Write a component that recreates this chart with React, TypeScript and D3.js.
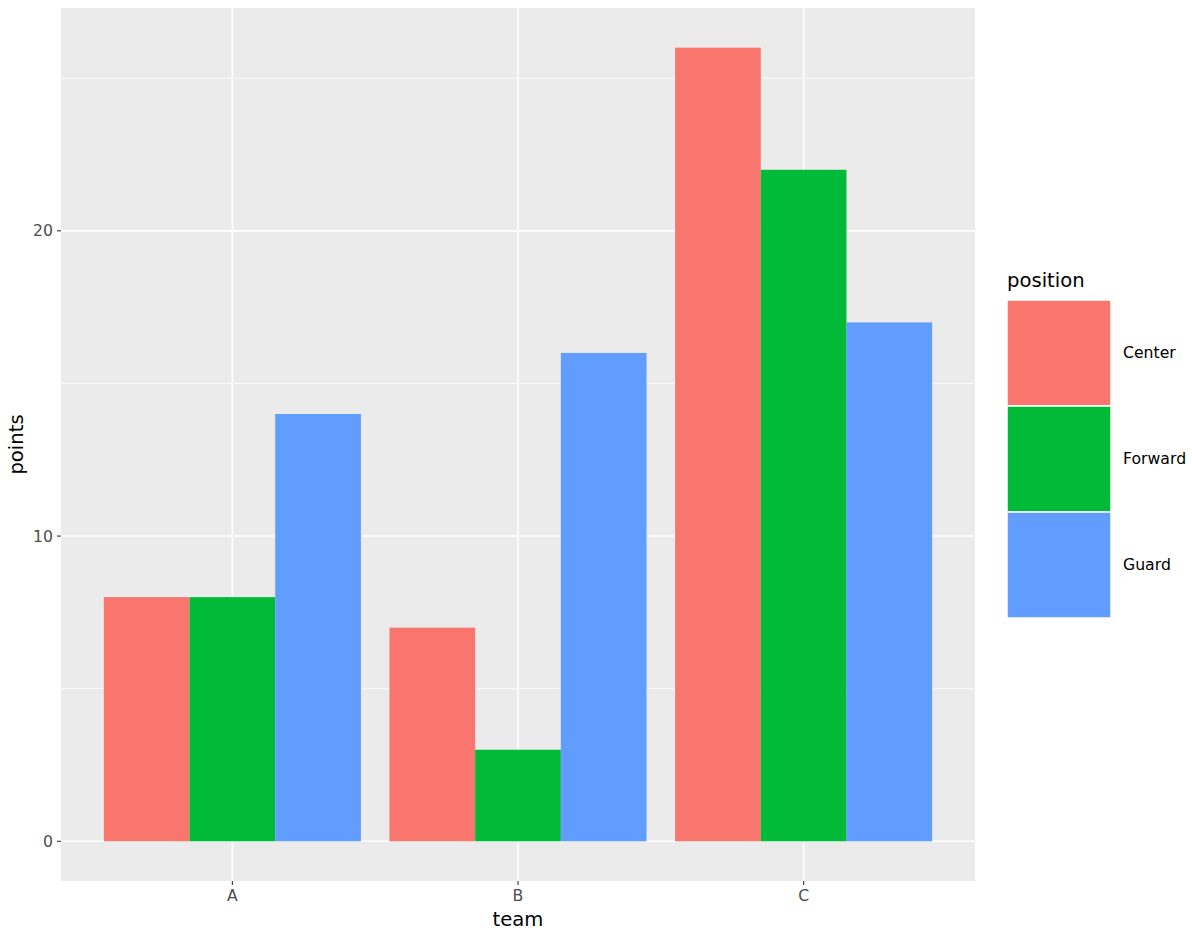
import { useEffect, useRef } from "react"
import * as d3 from "d3"

const teams = ["A", "B", "C"]
const positions = ["Center", "Forward", "Guard"]
const colors = ["#F8766D", "#00BA38", "#619CFF"]
// points per team, one array per position
const centerPoints = [8, 7, 26]
const forwardPoints = [8, 3, 22]
const guardPoints = [14, 16, 17]
const yTicks = [0, 10, 20]
const yMinor = [5, 15, 25]

export default function App() {
    const ref = useRef<SVGSVGElement>(null)

    useEffect(() => {
        document.body.style.margin = "0"
        const width = 1192
        const height = 938
        const panel = { left: 61, right: 975, top: 8, bottom: 881 }
        const font = "'DejaVu Sans', sans-serif"
        const textSize = 15.7
        const titleSize = 19.6

        const series = [centerPoints, forwardPoints, guardPoints]
        const rows = teams.flatMap((t, i) =>
            positions.map((p, j) => ({ team: t, position: p, value: series[j][i], color: colors[j] })))

        const maxV = d3.max(rows, d => d.value) as number
        const pad = maxV * 0.05

        // ggplot discrete: centers spaced 1 unit, expand 0.6, bar group width 0.9
        const x = d3.scalePoint<string>().domain(teams)
            .range([panel.left, panel.right]).padding(0.6)
        const groupW = x.step() * 0.9
        const inner = d3.scaleBand<string>().domain(positions).range([0, groupW])

        const y = d3.scaleLinear().domain([-pad, maxV + pad]).range([panel.bottom, panel.top])

        const svg = d3.select(ref.current)
        svg.selectAll("*").remove()
        svg.attr("width", width).attr("height", height).style("display", "block")
        svg.append("rect").attr("width", width).attr("height", height).attr("fill", "white")

        svg.append("rect")
            .attr("x", panel.left).attr("y", panel.top)
            .attr("width", panel.right - panel.left).attr("height", panel.bottom - panel.top)
            .attr("fill", "#EBEBEB")

        const grid = svg.append("g").attr("stroke", "white")
        grid.selectAll(".minor").data(yMinor).join("line")
            .attr("x1", panel.left).attr("x2", panel.right)
            .attr("y1", d => y(d)).attr("y2", d => y(d)).attr("stroke-width", 0.8)
        grid.selectAll(".major").data(yTicks).join("line")
            .attr("x1", panel.left).attr("x2", panel.right)
            .attr("y1", d => y(d)).attr("y2", d => y(d)).attr("stroke-width", 1.6)
        grid.selectAll(".xmajor").data(teams).join("line")
            .attr("y1", panel.top).attr("y2", panel.bottom)
            .attr("x1", d => x(d) as number).attr("x2", d => x(d) as number).attr("stroke-width", 1.6)

        svg.append("g").selectAll("rect").data(rows).join("rect")
            .attr("x", d => (x(d.team) as number) - groupW / 2 + (inner(d.position) as number))
            .attr("width", inner.bandwidth())
            .attr("y", d => y(d.value))
            .attr("height", d => y(0) - y(d.value))
            .attr("fill", d => d.color)

        // axes
        const axisCol = "#333333"
        const yAxis = svg.append("g")
        yAxis.selectAll("line").data(yTicks).join("line")
            .attr("x1", panel.left - 4).attr("x2", panel.left)
            .attr("y1", d => y(d)).attr("y2", d => y(d))
            .attr("stroke", axisCol).attr("stroke-width", 1.1)
        yAxis.selectAll("text").data(yTicks).join("text")
            .attr("x", panel.left - 8).attr("y", d => y(d))
            .attr("dy", "0.35em").attr("text-anchor", "end")
            .attr("font-family", font).attr("font-size", textSize).attr("fill", "#4D4D4D")
            .text(d => d)

        const xAxis = svg.append("g")
        xAxis.selectAll("line").data(teams).join("line")
            .attr("x1", d => x(d) as number).attr("x2", d => x(d) as number)
            .attr("y1", panel.bottom).attr("y2", panel.bottom + 4)
            .attr("stroke", axisCol).attr("stroke-width", 1.1)
        xAxis.selectAll("text").data(teams).join("text")
            .attr("x", d => x(d) as number).attr("y", panel.bottom + 20)
            .attr("text-anchor", "middle")
            .attr("font-family", font).attr("font-size", textSize).attr("fill", "#4D4D4D")
            .text(d => d)

        svg.append("text")
            .attr("x", (panel.left + panel.right) / 2).attr("y", 926)
            .attr("text-anchor", "middle")
            .attr("font-family", font).attr("font-size", titleSize).attr("fill", "black")
            .text("team")
        svg.append("text")
            .attr("transform", `translate(23, ${(panel.top + panel.bottom) / 2}) rotate(-90)`)
            .attr("text-anchor", "middle")
            .attr("font-family", font).attr("font-size", titleSize).attr("fill", "black")
            .text("points")

        // legend
        const legend = svg.append("g").attr("transform", "translate(1007, 0)")
        legend.append("text")
            .attr("x", 0).attr("y", 287)
            .attr("font-family", font).attr("font-size", titleSize).attr("fill", "black")
            .text("position")
        const keySize = 106
        const keyTop = 300
        const keys = legend.selectAll("g.key").data(positions).join("g")
            .attr("transform", (_, i) => `translate(0, ${keyTop + i * keySize})`)
        keys.append("rect")
            .attr("x", 0).attr("y", 0).attr("width", 104).attr("height", keySize)
            .attr("fill", (_, i) => colors[i]).attr("stroke", "white").attr("stroke-width", 1.5)
        keys.append("text")
            .attr("x", 116).attr("y", keySize / 2).attr("dy", "0.35em")
            .attr("font-family", font).attr("font-size", textSize).attr("fill", "black")
            .text(d => d)
    }, [])

    return <svg ref={ref}></svg>
}
